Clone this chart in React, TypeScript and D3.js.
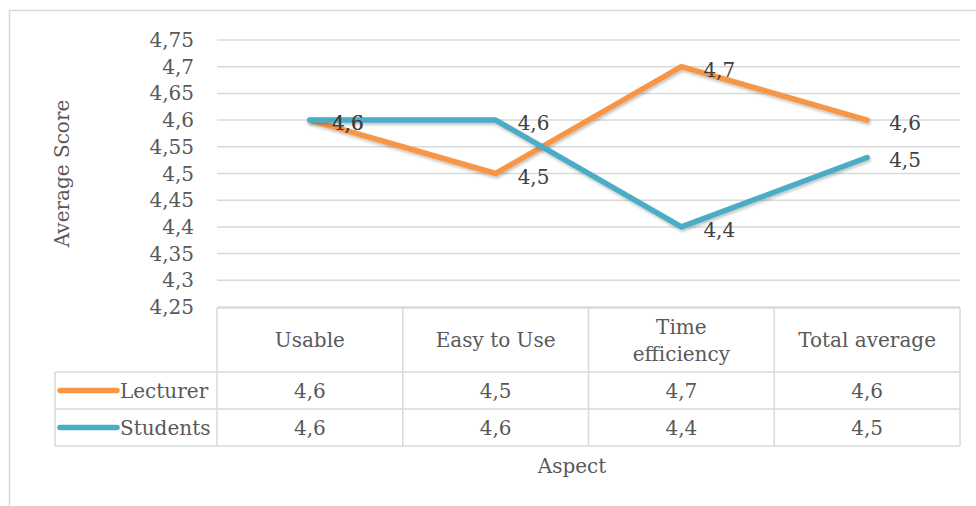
import React from "react";
import * as d3 from "d3";

const categories: string[][] = [["Usable"], ["Easy to Use"], ["Time", "efficiency"], ["Total average"]];
const seriesNames = ["Lecturer", "Students"];
const lecturer = [4.6, 4.5, 4.7, 4.6];
const students = [4.6, 4.6, 4.4, 4.53];
const colors = ["#F79646", "#4BACC6"];
const yTicks = [4.25, 4.3, 4.35, 4.4, 4.45, 4.5, 4.55, 4.6, 4.65, 4.7, 4.75];

const W = 976;
const H = 506;
const FONT = "'DejaVu Serif', serif";
const FS = 20;
const TEXT = "#595959";
const GRID = "#d9d9d9";

const fmtTick = (v: number) => d3.format("")(+v.toFixed(2)).replace(".", ",");
const fmtVal = (v: number) => d3.format(".1f")(v).replace(".", ",");

export default function App() {
  const left = 217;
  const right = 960;
  const top = 40;
  const bottom = 307;
  const x = d3.scaleBand<number>().domain(d3.range(categories.length)).range([left, right]);
  const y = d3.scaleLinear().domain([4.25, 4.75]).range([bottom, top]);
  const cx = (i: number) => (x(i) as number) + x.bandwidth() / 2;
  const line = d3
    .line<number>()
    .x((_, i) => cx(i))
    .y((d) => y(d));
  const series = [lecturer, students];

  const headerBottom = 372;
  const rowH = 37;
  const legendLeft = 55;

  return (
    <svg width={W} height={H} style={{ position: "absolute", left: 0, top: 0, background: "#fff" }} fontFamily={FONT}>
      <defs>
        <filter id="sh" x="-10%" y="-10%" width="120%" height="130%">
          <feDropShadow dx="1" dy="2" stdDeviation="1.5" floodColor="#000" floodOpacity="0.25" />
        </filter>
      </defs>
      {/* outer chart border */}
      <path d={`M${W + 2},10.5 H9.5 V${H + 2}`} fill="none" stroke={GRID} strokeWidth={1.5} />
      {/* gridlines */}
      {yTicks.map((t) => (
        <line key={t} x1={left} x2={right} y1={y(t)} y2={y(t)} stroke={GRID} strokeWidth={1.5} />
      ))}
      {/* y tick labels */}
      {yTicks.map((t) => (
        <text key={"l" + t} x={194} y={y(t)} dy="0.35em" textAnchor="end" fontSize={FS} fill={TEXT}>
          {fmtTick(t)}
        </text>
      ))}
      {/* y axis title */}
      <text
        transform={`translate(62,${(top + bottom) / 2}) rotate(-90)`}
        textAnchor="middle"
        dy="0.35em"
        fontSize={FS}
        fill={TEXT}
      >
        Average Score
      </text>
      {/* data table */}
      <g stroke={GRID} strokeWidth={1.5} fill="none">
        <line x1={left} x2={right} y1={bottom + 1} y2={bottom + 1} />
        <line x1={legendLeft} x2={right} y1={headerBottom} y2={headerBottom} />
        <line x1={legendLeft} x2={right} y1={headerBottom + rowH} y2={headerBottom + rowH} />
        <line x1={legendLeft} x2={right} y1={headerBottom + 2 * rowH} y2={headerBottom + 2 * rowH} />
        <line x1={legendLeft} x2={legendLeft} y1={headerBottom} y2={headerBottom + 2 * rowH} />
        {d3.range(categories.length + 1).map((i) => {
          const xx = i < categories.length ? (x(i) as number) : right;
          return <line key={i} x1={xx} x2={xx} y1={bottom + 1} y2={headerBottom + 2 * rowH} />;
        })}
      </g>
      {categories.map((lines, i) => (
        <text key={"c" + i} x={cx(i)} y={340} textAnchor="middle" fontSize={FS} fill={TEXT}>
          {lines.map((s, k) => (
            <tspan key={k} x={cx(i)} y={340 + (k - (lines.length - 1) / 2) * 27} dy="0.35em">
              {s}
            </tspan>
          ))}
        </text>
      ))}
      {series.map((vals, s) => (
        <g key={"row" + s}>
          <line
            x1={60}
            x2={117}
            y1={headerBottom + rowH * s + rowH / 2}
            y2={headerBottom + rowH * s + rowH / 2}
            stroke={colors[s]}
            strokeWidth={5.5}
            strokeLinecap="round"
          />
          <text x={120} y={headerBottom + rowH * s + rowH / 2} dy="0.35em" fontSize={FS} fill={TEXT}>
            {seriesNames[s]}
          </text>
          {vals.map((v, i) => (
            <text
              key={i}
              x={cx(i)}
              y={headerBottom + rowH * s + rowH / 2}
              dy="0.35em"
              textAnchor="middle"
              fontSize={FS}
              fill={TEXT}
            >
              {fmtVal(v)}
            </text>
          ))}
        </g>
      ))}
      {/* x axis title */}
      <text x={572} y={466} dy="0.35em" textAnchor="middle" fontSize={FS} fill={TEXT}>
        Aspect
      </text>
      {/* lines */}
      {series.map((vals, s) => (
        <path
          key={"ln" + s}
          d={line(vals) || ""}
          fill="none"
          stroke={colors[s]}
          strokeWidth={5.5}
          strokeLinejoin="round"
          strokeLinecap="round"
          filter="url(#sh)"
        />
      ))}
      {/* data labels */}
      {series.map((vals, s) =>
        vals.map((v, i) => (
          <text key={"dl" + s + i} x={cx(i) + 22} y={y(v) + 3} dy="0.35em" fontSize={FS} fill="#404040">
            {fmtVal(v)}
          </text>
        ))
      )}
    </svg>
  );
}
